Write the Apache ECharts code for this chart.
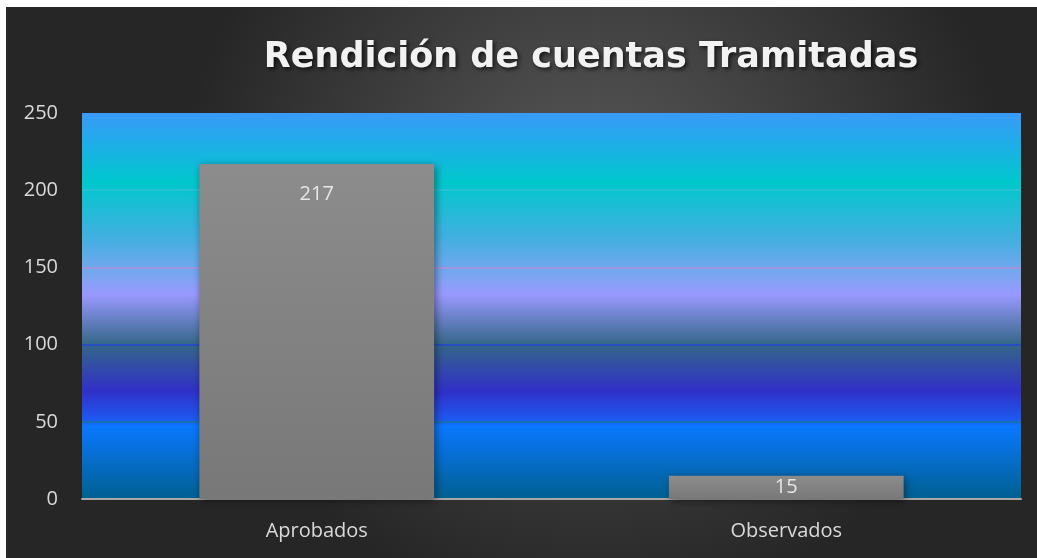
<!DOCTYPE html>
<html>
<head>
<meta charset="utf-8">
<script src="https://cdn.jsdelivr.net/npm/echarts@6/dist/echarts.min.js"></script>
<style>
  html, body { margin: 0; padding: 0; background: #fff; }
  #chart { position: absolute; left: 6px; top: 7px; width: 1031px; height: 551px; }
</style>
</head>
<body>
<div id="chart"></div>
<script>
const categories = ['Aprobados', 'Observados']
const values = [217, 15]
const yTicks = [0, 50, 100, 150, 200, 250]

const chart = echarts.init(document.getElementById('chart'))

const option = {
  backgroundColor: new echarts.graphic.RadialGradient(0.57, 0.35, 0.75, [
    {offset: 0, color: '#595959'},
    {offset: 0.6, color: '#3a3a3a'},
    {offset: 1, color: '#262626'},
  ]),
  title: {
    text: 'Rendición de cuentas Tramitadas',
    left: 580,
    top: 28,
    textAlign: 'center',
    textStyle: {
      color: '#f2f2f2',
      fontSize: 35,
      fontWeight: 'bold',
      fontFamily: 'DejaVu Sans',
      textShadowColor: 'rgba(0,0,0,0.7)',
      textShadowBlur: 4,
      textShadowOffsetX: 2,
      textShadowOffsetY: 2,
    },
  },
  grid: {
    left: 76,
    right: 16,
    top: 106,
    bottom: 59,
    show: true,
    borderWidth: 0,
    backgroundColor: new echarts.graphic.LinearGradient(0, 0, 0, 1, [
      {offset: 0, color: '#3a9af8'},
      {offset: 0.08, color: '#1eaee8'},
      {offset: 0.18, color: '#00c8cc'},
      {offset: 0.32, color: '#40b0e0'},
      {offset: 0.42, color: '#7aa6f0'},
      {offset: 0.47, color: '#9999ff'},
      {offset: 0.6, color: '#346688'},
      {offset: 0.72, color: '#3030c8'},
      {offset: 0.8, color: '#1c5cf4'},
      {offset: 0.81, color: '#0a78ff'},
      {offset: 1, color: '#006090'},
    ]),
  },
  xAxis: {
    type: 'category',
    data: categories,
    axisLine: {show: true, lineStyle: {color: '#a8a8a8', width: 2}},
    axisTick: {show: false},
    axisLabel: {
      color: '#d9d9d9',
      fontSize: 20,
      fontFamily: 'Open Sans',
      margin: 22,
    },
  },
  yAxis: {
    type: 'value',
    min: 0,
    max: 250,
    interval: 50,
    axisLine: {show: false},
    axisTick: {show: false},
    axisLabel: {
      color: '#d9d9d9',
      fontSize: 20,
      fontFamily: 'Open Sans',
      margin: 24,
      formatter: v => (yTicks.includes(v) ? String(v) : ''),
    },
    splitLine: {
      show: true,
      lineStyle: {
        color: ['transparent', '#127898', '#2444d4', '#b090d8', '#30c0d8', 'transparent'],
        width: 1.5,
      },
    },
  },
  series: [
    {
      type: 'bar',
      data: values,
      barWidth: '50%',
      itemStyle: {
        color: new echarts.graphic.LinearGradient(0, 0, 0, 1, [
          {offset: 0, color: '#8c8c8c'},
          {offset: 1, color: '#787878'},
        ]),
        shadowColor: 'rgba(0,0,0,0.45)',
        shadowBlur: 8,
        shadowOffsetX: 2,
        shadowOffsetY: 2,
      },
      label: {
        show: true,
        position: 'insideTop',
        distance: 20,
        color: '#e6e6e6',
        fontSize: 20,
        fontFamily: 'Open Sans',
      },
    },
  ],
}

option && chart.setOption(option)
// second bar is short, its label sits in the middle
chart.setOption({
  series: [{
    data: [values[0], {value: values[1], label: {position: 'inside', distance: 0}}],
  }],
})
</script>
</body>
</html>
